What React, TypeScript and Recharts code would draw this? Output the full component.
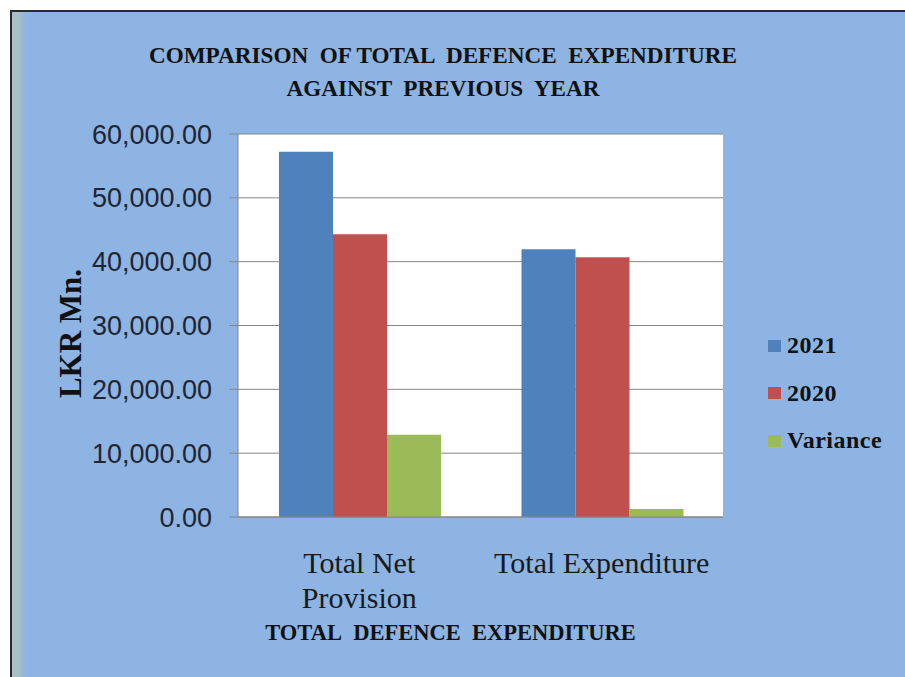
import { BarChart, Bar, XAxis, YAxis, CartesianGrid, Legend } from "recharts";

const categories = ["Total Net\nProvision", "Total Expenditure"];
const values2021 = [57200, 41950];
const values2020 = [44300, 40700];
const varianceValues = [12900, 1250];
const yTicks = [0, 10000, 20000, 30000, 40000, 50000, 60000];
const seriesNames = ["2021", "2020", "Variance"];

const COLORS = { y2021: "#4F81BD", y2020: "#C0504D", variance: "#9BBB59" };

const data = categories.map((name, i) => ({
  name,
  y2021: values2021[i],
  y2020: values2020[i],
  variance: varianceValues[i],
}));

const fmt = (v: number) =>
  v.toLocaleString("en-US", { minimumFractionDigits: 2, maximumFractionDigits: 2 });

const CategoryTick = ({ x, y, payload }: any) => {
  const lines = String(payload.value).split("\n");
  return (
    <text
      x={x}
      y={y}
      textAnchor="middle"
      fill="#1a1a1a"
      style={{ fontFamily: "'Liberation Serif', serif", fontSize: 30 }}
    >
      {lines.map((ln, i) => (
        <tspan key={i} x={x} dy={i === 0 ? 48 : 35}>
          {ln}
        </tspan>
      ))}
    </text>
  );
};

// rotated y-axis title, a little below the plot centre like the original
const YTitle = ({ viewBox }: any) => {
  const cx = viewBox.x + 70;
  const cy = viewBox.y + viewBox.height / 2 + 8;
  return (
    <text
      transform={`translate(${cx},${cy}) rotate(-90)`}
      textAnchor="middle"
      dominantBaseline="central"
      fill="#111"
      style={{ fontFamily: "'Liberation Serif', serif", fontWeight: "bold", fontSize: 31 }}
    >
      LKR Mn.
    </text>
  );
};

const LegendBox = ({ payload }: any) => {
  const items = [...(payload || [])].sort(
    (a: any, b: any) => seriesNames.indexOf(a.value) - seriesNames.indexOf(b.value)
  );
  return (
    <div style={{ display: "flex", flexDirection: "column" }}>
      {items.map((p: any) => (
        <div key={p.value} style={{ display: "flex", alignItems: "center", height: 47.5 }}>
          <span style={{ width: 13, height: 12, background: p.color, marginRight: 6 }} />
          <span
            style={{
              fontFamily: "'Liberation Serif', serif",
              fontWeight: "bold",
              fontSize: 24,
              letterSpacing: 0.5,
              color: "#111",
            }}
          >
            {p.value}
          </span>
        </div>
      ))}
    </div>
  );
};

export default function App() {
  return (
    <div style={{ position: "absolute", left: 0, top: 0, width: 905, height: 677, overflow: "hidden", background: "#fff" }}>
      <div
        style={{
          position: "absolute", left: 10, top: 10, width: 900, height: 672,
          borderTop: "2px solid #2a2a2a", borderLeft: "2px solid #2a2a2a",
          background: "linear-gradient(to right, #a8c1c6 0px, #a8c1c6 6px, #8db4e2 14px, #8db4e2 100%)",
        }}
      />
      <div
        style={{
          position: "absolute", left: 0, top: 39, width: 886, textAlign: "center",
          fontFamily: "'Liberation Serif', serif", fontWeight: "bold", fontSize: 23.2,
          lineHeight: "33px", whiteSpace: "pre", color: "#111",
        }}
      >
        {"COMPARISON  OF TOTAL  DEFENCE  EXPENDITURE\nAGAINST  PREVIOUS  YEAR"}
      </div>
      <div style={{ position: "absolute", left: 0, top: 0 }}>
        <BarChart
          width={905}
          height={677}
          data={data}
          margin={{ top: 134, right: 182, bottom: 20, left: 0 }}
          barCategoryGap={41}
          barGap={0}
        >
          <CartesianGrid vertical={false} stroke="#868686" fill="#ffffff" />
          <XAxis
            dataKey="name"
            interval={0}
            height={140}
            tickLine={false}
            axisLine={{ stroke: "#868686" }}
            tick={<CategoryTick />}
            label={{
              value: "TOTAL\u00a0\u00a0DEFENCE\u00a0\u00a0EXPENDITURE",
              position: "insideBottom",
              offset: 17,
              dx: -30,
              style: {
                fontFamily: "'Liberation Serif', serif", fontWeight: "bold", fontSize: 22.5,
                fill: "#111",
              },
            }}
          />
          <YAxis
            width={238}
            domain={[0, 60000]}
            ticks={yTicks}
            tickFormatter={fmt}
            tickSize={9}
            tickMargin={17}
            tickLine={{ stroke: "#868686" }}
            axisLine={{ stroke: "#868686" }}
            tick={{ fill: "#1f2535", fontSize: 27, fontFamily: "'Liberation Sans', sans-serif" }}
            label={{ content: <YTitle /> }}
          />
          <Legend
            layout="vertical"
            verticalAlign="middle"
            align="center"
            itemSorter={null}
            content={<LegendBox />}
            wrapperStyle={{ left: 768, top: 322, width: 130 }}
          />
          <Bar dataKey="y2021" name="2021" fill={COLORS.y2021} isAnimationActive={false} />
          <Bar dataKey="y2020" name="2020" fill={COLORS.y2020} isAnimationActive={false} />
          <Bar dataKey="variance" name="Variance" fill={COLORS.variance} isAnimationActive={false} />
        </BarChart>
      </div>
    </div>
  );
}
